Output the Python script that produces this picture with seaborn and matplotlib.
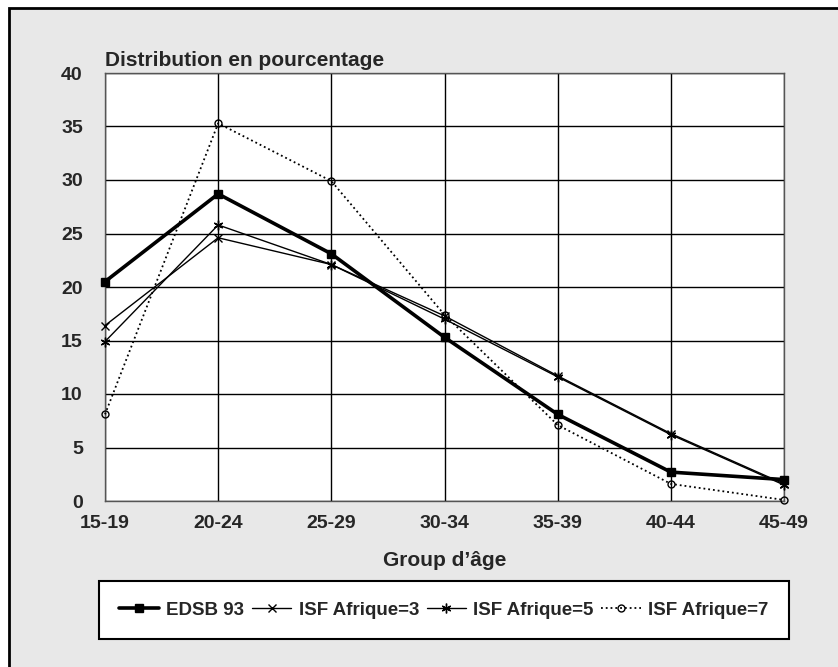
import pandas as pd
import matplotlib.pyplot as plt
import seaborn as sns
from matplotlib.patches import Rectangle

# data
ages = ["15-19", "20-24", "25-29", "30-34", "35-39", "40-44", "45-49"]
edsb_93 = [20.5, 28.7, 23.1, 15.3, 8.1, 2.7, 2.0]
isf_3 = [16.4, 24.6, 22.1, 17.3, 11.7, 6.3, 1.6]
isf_5 = [14.9, 25.8, 22.1, 17.0, 11.6, 6.2, 1.5]
isf_7 = [8.1, 35.3, 29.9, 17.4, 7.1, 1.6, 0.1]
series_names = ["EDSB 93", "ISF Afrique=3", "ISF Afrique=5", "ISF Afrique=7"]

frames = []
for name, vals in zip(series_names, [edsb_93, isf_3, isf_5, isf_7]):
    frames.append(pd.DataFrame({"age": ages, "pct": vals, "serie": name}))
df = pd.concat(frames, ignore_index=True)

sns.set_style("white")
plt.rcParams['font.family'] = ['Liberation Sans', 'DejaVu Sans']
plt.rcParams['font.weight'] = 'bold'

fig = plt.figure(figsize=(8.38, 6.67), dpi=100)
fig.patch.set_facecolor("white")
# grey panel with black frame
fig.patches.append(Rectangle((9 / 838, -0.05), 1.1, 1 - 8 / 667 + 0.05,
                             transform=fig.transFigure, facecolor="#e8e8e8",
                             edgecolor="black", linewidth=2, zorder=-5))

ax = fig.add_axes([105 / 838, 1 - 501 / 667, 679 / 838, 428 / 667])
ax.set_facecolor("white")

styles = {
    "EDSB 93": dict(marker="s", markersize=6, linewidth=2.6, linestyle="-"),
    "ISF Afrique=3": dict(marker="x", markersize=6, linewidth=1.0, linestyle="-"),
    "ISF Afrique=5": dict(marker=(6, 2, 0), markersize=7, linewidth=1.0, linestyle="-"),
    "ISF Afrique=7": dict(marker="o", markersize=5, linewidth=1.3, linestyle=":",
                          markerfacecolor="none"),
}

for name in series_names:
    sub = df[df["serie"] == name]
    st = dict(styles[name])
    ls = st.pop("linestyle")
    sns.lineplot(data=sub, x="age", y="pct", ax=ax, color="black", label=name,
                 markeredgecolor="black", markeredgewidth=1.0, zorder=3, **st)
    ax.lines[-1].set_linestyle(ls)
    ax.lines[-1].set_clip_on(False)

ax.set_xlim(0, 6)
ax.set_ylim(0, 40)
ax.set_yticks(range(0, 41, 5))
ax.grid(True, color="black", linewidth=1)
for s in ax.spines.values():
    s.set_color("#555555")
    s.set_linewidth(1)
ax.tick_params(axis="both", length=0, labelsize=14)
ax.tick_params(axis="x", pad=10)
ax.tick_params(axis="y", pad=16)
for lab in ax.get_xticklabels() + ax.get_yticklabels():
    lab.set_fontweight("bold")

ax.set_xlabel("Group d\u2019âge", fontsize=15, fontweight="bold", labelpad=14)
ax.set_ylabel("")
ax.set_title("Distribution en pourcentage", fontsize=15, fontweight="bold",
             loc="left", pad=5)

ax.get_legend().remove()
handles, labels = ax.get_legend_handles_labels()
leg = fig.legend(handles, labels, loc="center", ncol=4,
                 bbox_to_anchor=(444 / 838, 1 - 610 / 667),
                 frameon=True, fancybox=False, edgecolor="black",
                 facecolor="white", framealpha=1, handlelength=2.1,
                 handletextpad=0.4, columnspacing=0.4, borderpad=1.1,
                 prop={"weight": "bold", "size": 13.5})
leg.get_frame().set_linewidth(1.5)

plt.savefig("out.png", dpi=100, facecolor=fig.get_facecolor())
